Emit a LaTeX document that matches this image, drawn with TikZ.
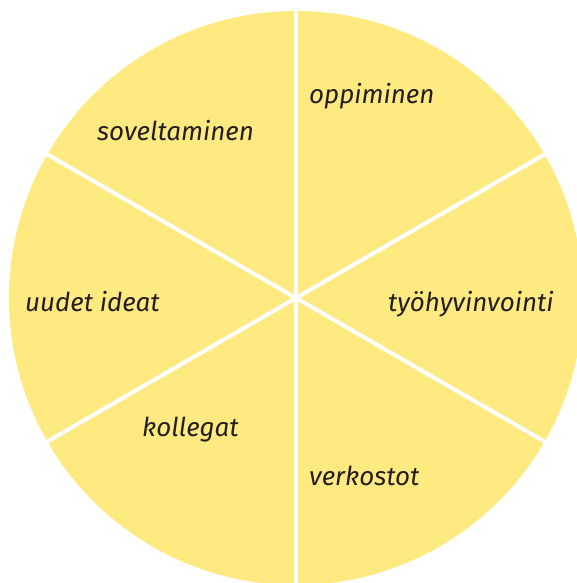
\documentclass[tikz,border=0pt]{standalone}
\usepackage{fontspec}
\setmainfont{Fira Sans}
\definecolor{wheelyellow}{RGB}{254,234,128}
\definecolor{inkdark}{RGB}{35,31,32}
\begin{document}
\begin{tikzpicture}[x=1pt,y=-1pt,
  lbl/.style={anchor=base west,inner sep=0pt,text=inkdark,font=\fontsize{26}{26}\selectfont\itshape}]
\useasboundingbox (0,0) rectangle (577,583);
\begin{scope}
\clip (0,0) rectangle (577,583);
\coordinate (c) at (296,298);
\fill[wheelyellow] (c) circle (287);
\foreach \a in {90,30,-30,-90,-150,150}{
  \draw[white,line width=4pt] (c) -- ++({cos(\a)*300},{-sin(\a)*300});
}
\end{scope}
\node[lbl] (opp) at (309,104) {oppiminen};
\node[lbl] (sov) at (97,140) {soveltaminen};
\node[lbl] (tyo) at (388,311) {työhyvinvointi};
\node[lbl] (uud) at (25,311) {uudet ideat};
\node[lbl] (kol) at (142,436) {kollegat};
\node[lbl] (ver) at (309,485) {verkostot};
\end{tikzpicture}
\end{document}
